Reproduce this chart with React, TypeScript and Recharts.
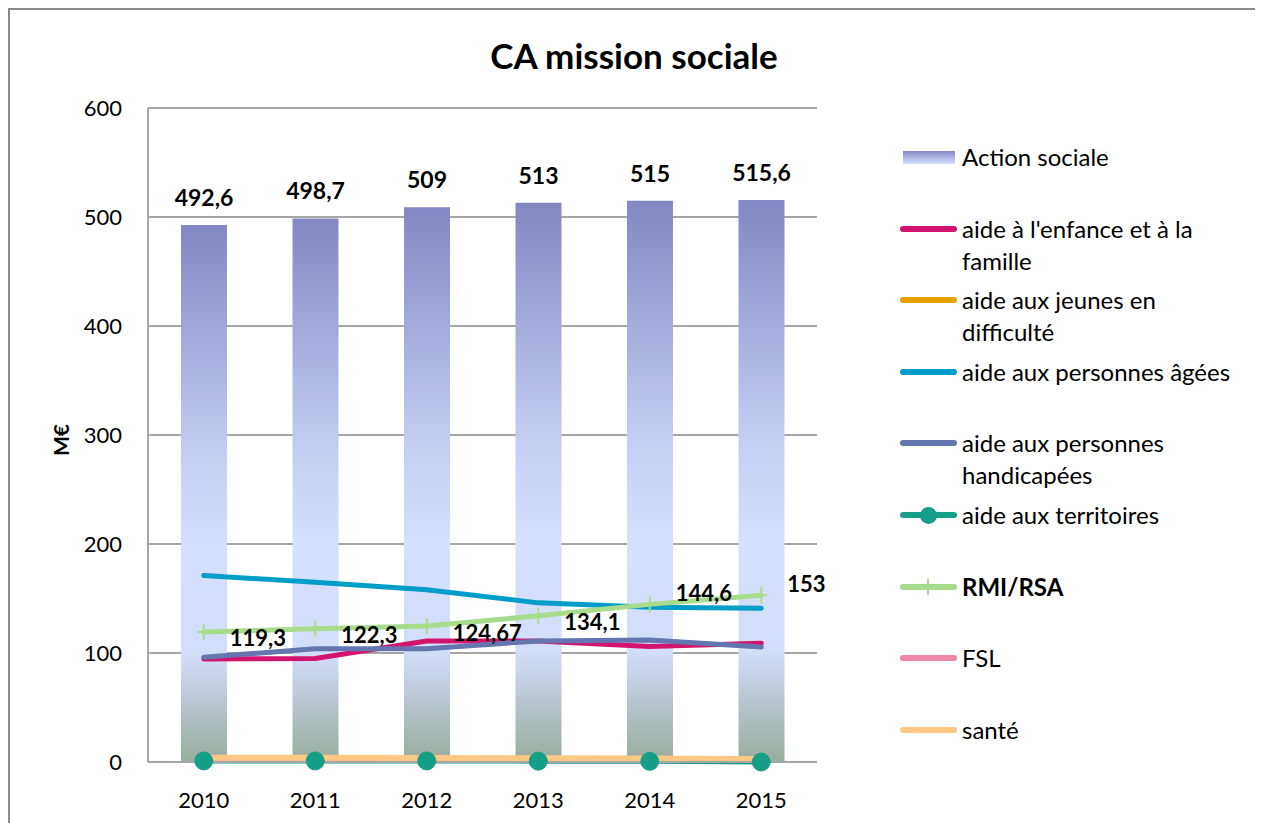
import { ComposedChart, Bar, Line, XAxis, YAxis, CartesianGrid, LabelList } from 'recharts';

const years = ['2010', '2011', '2012', '2013', '2014', '2015'];
const actionSociale = [492.6, 498.7, 509, 513, 515, 515.6];
const enfance = [94.5, 95, 111, 111, 106, 109];
const jeunes = [3.6, 3.6, 3.5, 3.3, 3.1, 2.6];
const agees = [171, 165, 158, 146, 142, 141];
const handicap = [96, 104, 104, 111, 112, 105.5];
const territoires = [1, 1, 1, 0.8, 0.6, 0];
const rmiRsa = [119.3, 122.3, 124.67, 134.1, 144.6, 153];
const fsl = [3, 3, 3, 2.8, 2.6, 2];
const sante = [3.9, 3.9, 3.7, 3.5, 3.3, 2.7];
const yTicks = [0, 100, 200, 300, 400, 500, 600];

type Serie = { key: string; name: string; color: string; values: number[]; bold?: boolean; marker?: 'circle' | 'plus' };

const lines: Serie[] = [
  { key: 'enfance', name: "aide à l'enfance et à la famille", color: '#D3146F', values: enfance },
  { key: 'jeunes', name: 'aide aux jeunes en difficulté', color: '#E5A100', values: jeunes },
  { key: 'agees', name: 'aide aux personnes âgées', color: '#009DC8', values: agees },
  { key: 'handicap', name: 'aide aux personnes handicapées', color: '#6475B0', values: handicap },
  { key: 'territoires', name: 'aide aux territoires', color: '#169E88', values: territoires, marker: 'circle' },
  { key: 'rmi', name: 'RMI/RSA', color: '#A8DC8C', values: rmiRsa, bold: true, marker: 'plus' },
  { key: 'fsl', name: 'FSL', color: '#EE88A8', values: fsl },
  { key: 'sante', name: 'santé', color: '#FFC985', values: sante },
];

const data = years.map((year, i) => {
  const row: Record<string, number | string> = { year, action: actionSociale[i] };
  lines.forEach((s) => { row[s.key] = s.values[i]; });
  return row;
});

const FONT = 'Lato, "Open Sans", sans-serif';
const fmt = (v: number) => String(v).replace('.', ',');

function PlusDot(props: any) {
  const { cx, cy, index } = props;
  if (cx == null || cy == null) return null;
  return (
    <path key={`p${index}`} d={`M${cx},${cy - 8}V${cy + 8}M${cx - 6},${cy}H${cx + 6}`} stroke="#A8DC8C" strokeWidth={2} fill="none" />
  );
}

function RmiLabel(props: any) {
  const { x, y, value, index } = props;
  // the last two labels sit above the line in the reference
  const dy = index >= 4 ? -12 : 6;
  return (
    <text x={x + 26} y={y + dy} fontFamily={FONT} fontSize={22} fontWeight={700} fill="#000" dominantBaseline="central">
      {fmt(value)}
    </text>
  );
}

function Legend() {
  return (
    <div style={{ position: 'absolute', left: 890, top: 131, fontFamily: FONT, fontSize: 24, lineHeight: '32px', color: '#000' }}>
      <div style={{ height: 71.6, display: 'flex' }}>
        <div style={{ width: 62, height: 32, display: 'flex', alignItems: 'center' }}>
          <div style={{ marginLeft: 3, width: 52, height: 13, background: 'linear-gradient(#8388C4, #D5DFFF)' }} />
        </div>
        <div>Action sociale</div>
      </div>
      {lines.map((s) => (
        <div key={s.key} style={{ height: 71.6, display: 'flex' }}>
          <div style={{ width: 62, height: 32, position: 'relative', flexShrink: 0 }}>
            <div style={{ position: 'absolute', left: 0, top: 13, width: 57, height: 6, borderRadius: 3, background: s.color }} />
            {s.marker === 'circle' && (
              <div style={{ position: 'absolute', left: 20, top: 8, width: 17, height: 17, borderRadius: '50%', background: s.color }} />
            )}
            {s.marker === 'plus' && (
              <div style={{ position: 'absolute', left: 27, top: 8, width: 2, height: 16, background: s.color }} />
            )}
          </div>
          <div style={{ width: 282, fontWeight: s.bold ? 700 : 400 }}>{s.name}</div>
        </div>
      ))}
    </div>
  );
}

export default function App() {
  return (
    <div
      style={{
        position: 'relative', width: 1251, height: 815,
        borderLeft: '2px solid #8A8A8A', borderTop: '2px solid #8A8A8A', borderRight: '1px solid #8A8A8A',
        background: '#fff',
      }}
    >
      <div style={{ position: 'absolute', left: 324, top: 25, width: 600, textAlign: 'center', fontFamily: FONT, fontWeight: 700, fontSize: 35, lineHeight: '40px' }}>
        CA mission sociale
      </div>
      <ComposedChart width={1251} height={813} data={data} margin={{ top: 98, right: 444, bottom: 0, left: 78 }}>
        <defs>
          <linearGradient id="barFill" x1="0" y1="0" x2="0" y2="1">
            <stop offset="0" stopColor="#8387C3" />
            <stop offset="0.42" stopColor="#C3CDF3" />
            <stop offset="0.6" stopColor="#D5DFFF" />
            <stop offset="0.8" stopColor="#D3DEFA" />
            <stop offset="0.9" stopColor="#B6C3CC" />
            <stop offset="1" stopColor="#97AD9C" />
          </linearGradient>
        </defs>
        <CartesianGrid vertical={false} stroke="#A6A6A6" strokeWidth={2} />
        <XAxis
          dataKey="year" axisLine={{ stroke: '#A6A6A6', strokeWidth: 2 }} tickLine={false} tickSize={0} tickMargin={30} height={61}
          tick={{ fontFamily: FONT, fontSize: 22, fill: '#000' }}
        />
        <YAxis
          domain={[0, 600]} ticks={yTicks} width={60} axisLine={{ stroke: '#A6A6A6', strokeWidth: 2 }} tickLine={false} tickSize={0} tickMargin={26}
          tick={{ fontFamily: FONT, fontSize: 22, fill: '#000' }}
          label={{
            content: ({ viewBox }: any) => {
              const cx = viewBox.x - 28;
              const cy = viewBox.y + viewBox.height / 2 + 5;
              return (
                <text x={cx} y={cy} transform={`rotate(-90, ${cx}, ${cy})`} textAnchor="middle" dominantBaseline="central" fontFamily={FONT} fontWeight={700} fontSize={21} fill="#000">
                  M€
                </text>
              );
            },
          }}
        />
        <Bar dataKey="action" name="Action sociale" fill="url(#barFill)" barSize={46} isAnimationActive={false}>
          <LabelList dataKey="action" position="top" offset={19} formatter={(v: any) => fmt(v)} style={{ fontFamily: FONT, fontSize: 23, fontWeight: 700, fill: '#000' }} />
        </Bar>
        {lines.map((s) => (
          <Line
            key={s.key} type="linear" dataKey={s.key} name={s.name} stroke={s.color}
            strokeWidth={s.key === 'sante' ? 6 : 5} strokeLinecap="round"
            isAnimationActive={false}
            dot={s.marker === 'circle' ? { r: 9, fill: s.color, stroke: s.color, strokeWidth: 1 } : s.marker === 'plus' ? PlusDot : false}
            activeDot={false}
          >
            {s.key === 'rmi' && <LabelList dataKey="rmi" content={RmiLabel} />}
          </Line>
        ))}
      </ComposedChart>
      <Legend />
    </div>
  );
}
